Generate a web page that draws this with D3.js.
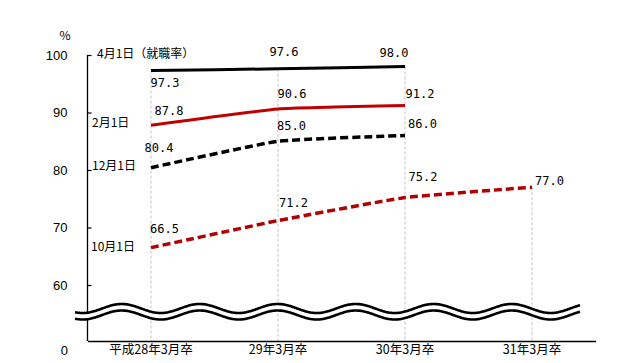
<!DOCTYPE html>
<html>
<head>
<meta charset="utf-8">
<script src="https://cdn.jsdelivr.net/npm/d3@7"></script>
<style>
  html, body { margin: 0; padding: 0; background: #fff; }
  svg { display: block; }
</style>
</head>
<body>
<svg id="chart" width="640" height="363"></svg>
<script>
// ---- data ----
const categories = ["平成28年3月卒", "29年3月卒", "30年3月卒", "31年3月卒"];
const seriesNames = ["4月1日（就職率）", "2月1日", "12月1日", "10月1日"];
const apr1 = [97.3, 97.6, 98.0];
const feb1 = [87.8, 90.6, 91.2];
const dec1 = [80.4, 85.0, 86.0];
const oct1 = [66.5, 71.2, 75.2, 77.0];
const yTicks = [60, 70, 80, 90, 100];
const yBottomLabel = 0;
const unitLabel = "%";

// ---- layout / style ----
const svg = d3.select("#chart");
const x = d3.scaleBand().domain(categories).range([87.5, 595.5]);
const cx = c => x(c) + x.bandwidth() / 2;
const y = d3.scaleLinear().domain([0, 60, 100]).range([341, 285, 55]);

const styles = [
  { color: "#000000", dash: null, width: 3 },
  { color: "#c00000", dash: null, width: 3 },
  { color: "#000000", dash: "8,4", width: 3.5 },
  { color: "#b00000", dash: "8,4", width: 3.5 }
];
// value label offsets [dx of label centre, dy of label centre] per point
const valueOffsets = [
  [[14, 12], [6, -17], [-11, -14]],
  [[18, -14.5], [14, -15], [15, -11.5]],
  [[8, -19.5], [13.5, -15.5], [17.5, -11.5]],
  [[13.5, -18.5], [15.5, -17.5], [18, -20.5], [17.5, -6.5]]
];
const nameOffsets = [[97, -18.5], [92, -3.5], [92, -3.5], [91, -2]];

const allSeries = [apr1, feb1, dec1, oct1];

// drop lines from top point of each category
const tops = categories.map((c, i) => d3.max(allSeries, s => s[i]));
svg.append("g").selectAll("line").data(categories).join("line")
  .attr("x1", d => cx(d)).attr("x2", d => cx(d))
  .attr("y1", (d, i) => y(tops[i])).attr("y2", y(0))
  .attr("stroke", "#c4c4c4").attr("stroke-width", 1)
  .attr("stroke-dasharray", "3,2");

// axes
const yAxis = d3.axisLeft(y).tickValues(yTicks).tickSize(-4).tickPadding(20);
const gy = svg.append("g").attr("transform", "translate(87.5,0)").call(yAxis);
gy.select(".domain").attr("d", `M0,${y(100)}V${y(0)}`).attr("stroke", "#000").attr("stroke-width", 1.3);
gy.selectAll(".tick line").attr("stroke", "#000").attr("stroke-width", 1.2);
gy.selectAll(".tick text").attr("font-family", "'Liberation Sans', Arial, sans-serif")
  .attr("font-size", 13).attr("fill", "#000");

const xAxis = d3.axisBottom(x).tickSize(0).tickPadding(5);
const gx = svg.append("g").attr("transform", `translate(0,${y(0)})`).call(xAxis);
gx.select(".domain").attr("stroke", "#000").attr("stroke-width", 1.3);
gx.selectAll(".tick text").attr("font-family", "'Noto Sans CJK JP', sans-serif")
  .attr("font-size", 12.5).attr("fill", "#000").attr("dy", "0.6em");

svg.append("text").attr("x", 68).attr("y", y(0) + 9).attr("text-anchor", "end")
  .attr("dominant-baseline", "central")
  .attr("font-family", "'Liberation Sans', Arial, sans-serif").attr("font-size", 13)
  .text(yBottomLabel);
svg.append("text").attr("x", 65).attr("y", 34).attr("text-anchor", "middle")
  .attr("dominant-baseline", "central")
  .attr("font-family", "'Noto Sans CJK JP', sans-serif").attr("font-size", 12)
  .text(unitLabel);

// axis break (double wave)
const waveX0 = 75, waveX1 = 580, period = 78, phase = 82.7, amp = 4.5;
const topC = 308.5, botC = 315;
const xs = d3.range(waveX0, waveX1 + 0.5, 1);
const wy = (xv, c) => c + amp * Math.cos(2 * Math.PI * (xv - phase) / period);
const topPts = xs.map(v => [v, wy(v, topC)]);
const botPts = xs.map(v => [v, wy(v, botC)]);
svg.append("path")
  .attr("d", d3.line()(topPts.concat(botPts.slice().reverse())) + "Z")
  .attr("fill", "#fff");
[topPts, botPts].forEach(p => {
  svg.append("path").attr("d", d3.line()(p)).attr("fill", "none")
    .attr("stroke", "#000").attr("stroke-width", 2.6);
});

// series lines
const line = d3.line()
  .x((d, i) => cx(categories[i]))
  .y(d => y(d))
  .curve(d3.curveCardinal.tension(0.6));

allSeries.forEach((s, k) => {
  const st = styles[k];
  svg.append("path").datum(s).attr("d", line)
    .attr("fill", "none").attr("stroke", st.color)
    .attr("stroke-width", st.width)
    .attr("stroke-dasharray", st.dash)
    .attr("stroke-linecap", "butt");
});

// value labels
allSeries.forEach((s, k) => {
  svg.append("g").selectAll("text").data(s).join("text")
    .attr("x", (d, i) => cx(categories[i]) + valueOffsets[k][i][0])
    .attr("y", (d, i) => y(d) + valueOffsets[k][i][1])
    .attr("text-anchor", "middle").attr("dominant-baseline", "central")
    .attr("font-family", "'DejaVu Sans Mono', monospace").attr("font-size", 12)
    .attr("fill", "#000")
    .text(d => d.toFixed(1));
});

// series names
allSeries.forEach((s, k) => {
  svg.append("text")
    .attr("x", nameOffsets[k][0])
    .attr("y", y(s[0]) + nameOffsets[k][1])
    .attr("dominant-baseline", "central")
    .attr("font-family", "'Noto Sans CJK JP', sans-serif").attr("font-size", 12)
    .attr("fill", "#000")
    .text(seriesNames[k]);
});
</script>
</body>
</html>
